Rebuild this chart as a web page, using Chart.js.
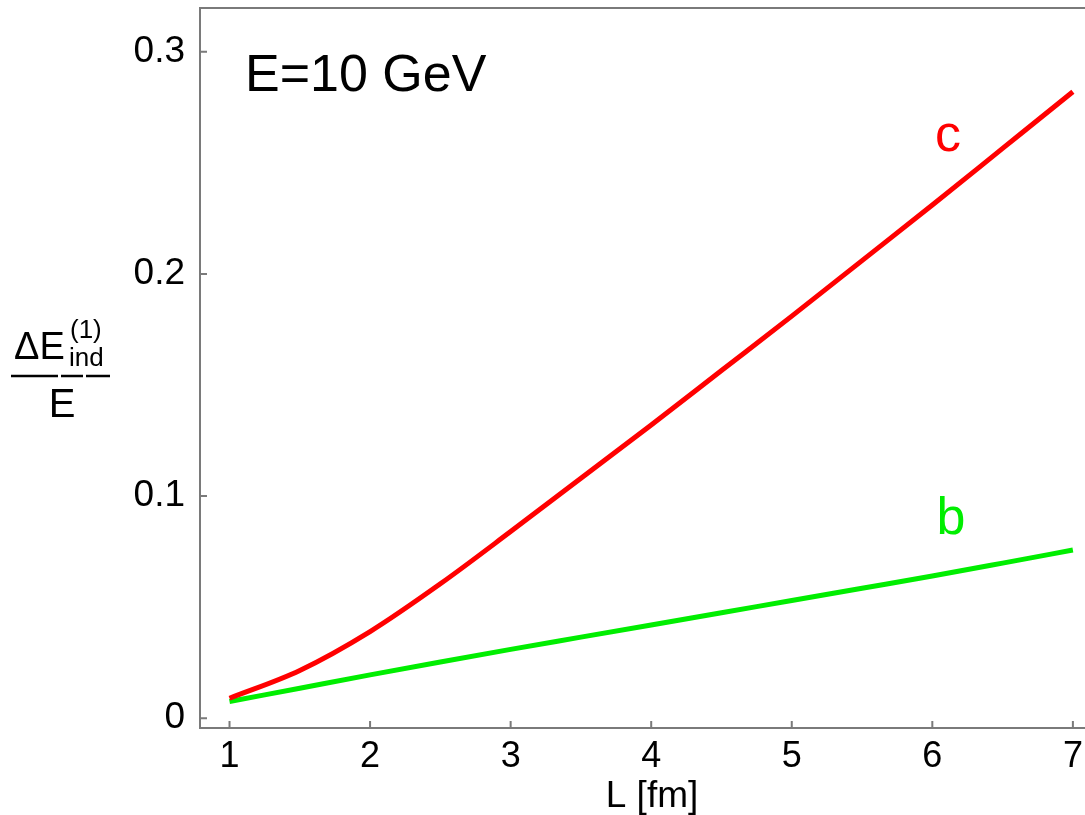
<!DOCTYPE html>
<html>
<head>
<meta charset="utf-8">
<script src="https://cdn.jsdelivr.net/npm/chart.js@4.4.1/dist/chart.umd.min.js"></script>
<style>
  html, body { margin: 0; padding: 0; background: #fff; overflow: hidden; }
  #wrap { width: 1110px; height: 815px; }
</style>
</head>
<body>
<div id="wrap"><canvas id="chart" width="1110" height="815"></canvas></div>
<script>
// L [fm]
const lengths = [1, 1.5, 2, 2.5, 3, 3.5, 4, 4.5, 5, 5.5, 6, 6.5, 7];
// charm quark, red
const charmLoss = [0.009, 0.0215, 0.039, 0.0605, 0.084, 0.108, 0.132, 0.1565, 0.181, 0.206, 0.231, 0.2565, 0.282];
// bottom quark, green
const bottomLoss = [0.0075, 0.0135, 0.0195, 0.0253, 0.031, 0.0365, 0.042, 0.0475, 0.053, 0.0585, 0.064, 0.0698, 0.0757];
const xTicks = [1, 2, 3, 4, 5, 6, 7];
const yTicks = [0, 0.1, 0.2, 0.3];

const RED = '#ff0000', GREEN = '#00ee00', AXIS = '#7a7a7a';
const FONT = '"Liberation Sans", Arial, sans-serif';

const pts = ys => lengths.map((x, i) => ({ x, y: ys[i] }));

const frame = {
  id: 'frame',
  afterDraw(chart) {
    const { ctx, chartArea: a, scales: { x, y } } = chart;
    ctx.save();
    ctx.strokeStyle = AXIS;
    ctx.lineWidth = 2;
    ctx.strokeRect(a.left, a.top, a.right - a.left, a.bottom - a.top);
    // inward ticks
    ctx.beginPath();
    xTicks.forEach(v => { const px = x.getPixelForValue(v); ctx.moveTo(px, a.bottom); ctx.lineTo(px, a.bottom - 7); });
    yTicks.forEach(v => { const py = y.getPixelForValue(v); ctx.moveTo(a.left, py); ctx.lineTo(a.left + 7, py); });
    ctx.stroke();

    ctx.fillStyle = '#000';
    ctx.textBaseline = 'alphabetic';
    ctx.font = '52px ' + FONT;
    ctx.textAlign = 'left';
    ctx.fillText('E=10 GeV', 245, 91);

    ctx.textAlign = 'center';
    ctx.fillStyle = RED;
    ctx.fillText('c', 948, 151);
    ctx.fillStyle = GREEN;
    ctx.fillText('b', 951, 534);

    // x axis title
    ctx.fillStyle = '#000';
    ctx.font = '37px ' + FONT;
    ctx.fillText('L [fm]', 652, 807);

    // y axis title as a fraction
    ctx.textAlign = 'left';
    ctx.font = '38px ' + FONT;
    ctx.fillText('\u0394E', 14, 359);
    ctx.font = '26px ' + FONT;
    ctx.fillText('(1)', 70, 338);
    ctx.fillText('ind', 69, 366);
    ctx.textAlign = 'center';
    ctx.font = '40px ' + FONT;
    ctx.fillText('E', 62, 417);
    ctx.strokeStyle = '#000';
    ctx.lineWidth = 2.5;
    ctx.beginPath();
    [[11, 58], [61, 83], [86, 110]].forEach(([s, e]) => { ctx.moveTo(s, 376); ctx.lineTo(e, 376); });
    ctx.stroke();
    ctx.restore();
  }
};

new Chart(document.getElementById('chart'), {
  type: 'line',
  data: {
    datasets: [
      { label: 'c', data: pts(charmLoss), borderColor: RED, borderWidth: 5, pointRadius: 0, cubicInterpolationMode: 'monotone', fill: false },
      { label: 'b', data: pts(bottomLoss), borderColor: GREEN, borderWidth: 5, pointRadius: 0, cubicInterpolationMode: 'monotone', fill: false }
    ]
  },
  options: {
    responsive: false,
    animation: false,
    layout: { padding: { left: 0, top: 8, right: 9, bottom: 0 } },
    plugins: { legend: { display: false }, tooltip: { enabled: false } },
    scales: {
      x: {
        type: 'linear', min: 0.79, max: 7.2,
        afterBuildTicks: s => { s.ticks = xTicks.map(value => ({ value })); },
        afterFit: s => { s.height = 87; s.paddingLeft = 0; s.paddingRight = 0; },
        grid: { display: false, drawTicks: false },
        border: { display: false },
        ticks: { color: '#000', font: { family: FONT, size: 36 }, padding: 7, maxRotation: 0 }
      },
      y: {
        type: 'linear', min: -0.0044, max: 0.3197,
        afterBuildTicks: s => { s.ticks = yTicks.map(value => ({ value })); },
        afterFit: s => { s.width = 200; s.paddingTop = 0; s.paddingBottom = 0; },
        grid: { display: false, drawTicks: false },
        border: { display: false },
        ticks: { color: '#000', font: { family: FONT, size: 37 }, padding: 15, callback: v => String(v) }
      }
    }
  },
  plugins: [frame]
});
</script>
</body>
</html>
